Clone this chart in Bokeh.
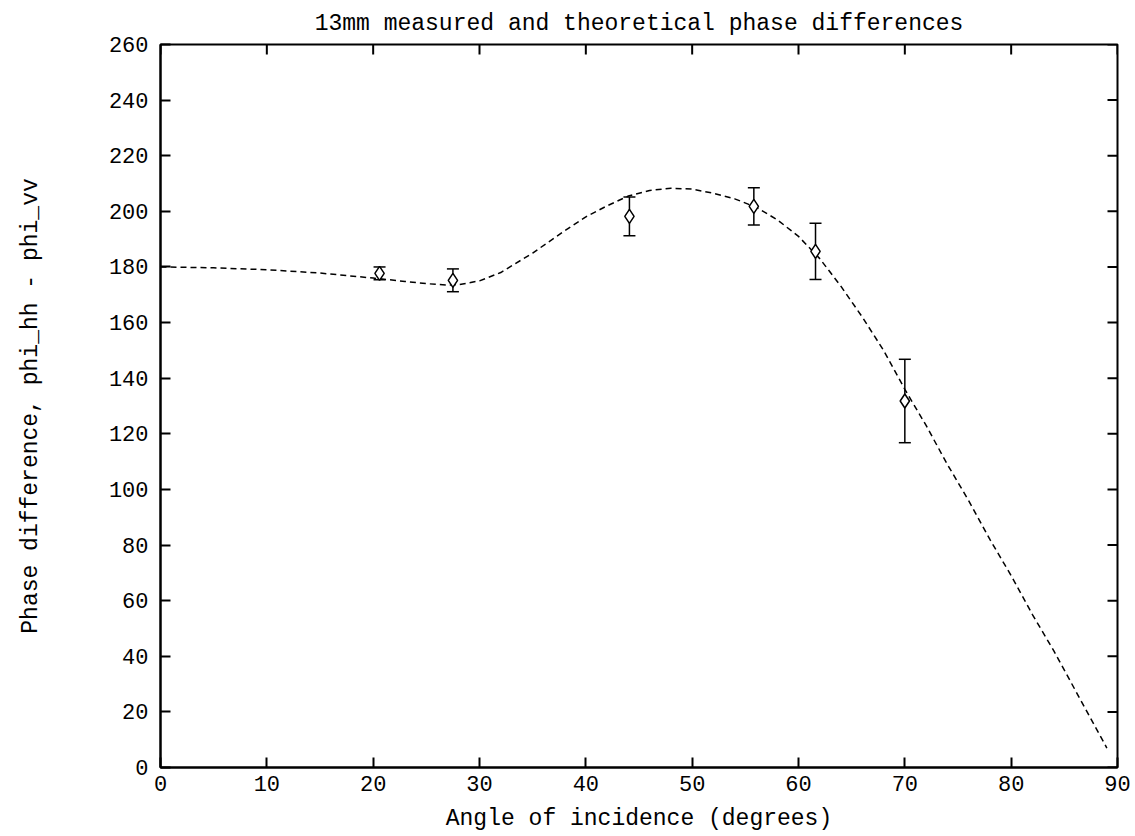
import math
from bokeh.plotting import figure
from bokeh.models import Range1d, FixedTicker, Whisker, ColumnDataSource, TeeHead
from bokeh.embed import file_html
from bokeh.resources import INLINE

# Measured data (angle in degrees, phase difference in degrees, error)
angle_meas = [20.6, 27.5, 44.1, 55.8, 61.6, 70.0]
phase_meas = [177.7, 175.2, 198.2, 201.8, 185.6, 131.8]
phase_err = [2.3, 4.1, 7.0, 6.7, 10.1, 15.0]

# Theoretical curve
theory_angle = [0, 5, 10, 15, 20, 23, 25, 27, 28, 30, 32, 35, 38, 40, 42, 44, 46, 48,
                50, 52, 54, 56, 58, 60, 62, 64, 66, 68, 70, 72, 74, 76, 78, 80, 82,
                84, 86, 88, 89]
theory_phase = [180, 179.7, 179, 177.8, 176, 174.8, 174, 173.5, 173.6, 175, 178, 185,
                193, 198, 202, 205.5, 207.5, 208.3, 208, 206.5, 204.5, 201.5, 197, 191,
                183, 173, 162, 150, 136, 123, 109, 96, 82, 69, 55, 42, 28, 14, 7]

x_ticks = list(range(0, 91, 10))
y_ticks = list(range(0, 261, 20))
x_max = 90
y_max = 260

FONT = "Liberation Mono"
FS_TICK = "22px"
FS_LABEL = "23px"

p = figure(width=1135, height=836, output_backend="svg", toolbar_location=None,
           x_range=Range1d(0, x_max), y_range=Range1d(0, y_max),
           title="13mm measured and theoretical phase differences",
           min_border_left=160, min_border_right=18, min_border_top=44, min_border_bottom=69)

p.title.text_font = FONT
p.title.text_font_size = FS_LABEL
p.title.text_font_style = "normal"
p.title.text_color = "black"
p.title.align = "center"
p.title.standoff = 16

p.xgrid.visible = False
p.ygrid.visible = False
p.outline_line_color = "black"
p.outline_line_width = 2
p.background_fill_color = "white"
p.border_fill_color = "white"

for ax, ticks in ((p.xaxis[0], x_ticks), (p.yaxis[0], y_ticks)):
    ax.ticker = FixedTicker(ticks=ticks)
    ax.major_tick_in = 10
    ax.major_tick_out = 0
    ax.minor_tick_line_color = None
    ax.axis_line_width = 2
    ax.major_tick_line_width = 2
    ax.major_label_text_font = FONT
    ax.major_label_text_font_size = FS_TICK
    ax.major_label_text_color = "black"
    ax.axis_label_text_font = FONT
    ax.axis_label_text_font_size = FS_LABEL
    ax.axis_label_text_font_style = "normal"
    ax.axis_label_text_color = "black"

p.xaxis.axis_label = "Angle of incidence (degrees)"
p.yaxis.axis_label = "Phase difference, phi_hh - phi_vv"
p.xaxis.major_label_standoff = 8
p.yaxis.major_label_standoff = 12
p.xaxis.axis_label_standoff = 12
p.yaxis.axis_label_standoff = 62

# mirrored ticks on top and right edges (half of each dash is clipped by the frame)
p.scatter(x_ticks, [y_max] * len(x_ticks), marker="dash", size=20, angle=math.pi / 2,
          line_color="black", line_width=2)
p.scatter([x_max] * len(y_ticks), y_ticks, marker="dash", size=20,
          line_color="black", line_width=2)

# theoretical curve
p.line(theory_angle, theory_phase, line_color="black", line_width=1.5, line_dash="6 4")

# error bars
lower = [v - e for v, e in zip(phase_meas, phase_err)]
upper = [v + e for v, e in zip(phase_meas, phase_err)]
src = ColumnDataSource(dict(x=angle_meas, y=phase_meas, lower=lower, upper=upper))
w = Whisker(source=src, base="x", lower="lower", upper="upper", line_color="black",
            line_width=1.5,
            upper_head=TeeHead(size=12, line_color="black", line_width=1.5),
            lower_head=TeeHead(size=12, line_color="black", line_width=1.5))
p.add_layout(w)

p.scatter("x", "y", source=src, marker="diamond", size=14, fill_color="white",
          line_color="black", line_width=1.5)

open("out.html", "w").write(file_html(p, INLINE))
